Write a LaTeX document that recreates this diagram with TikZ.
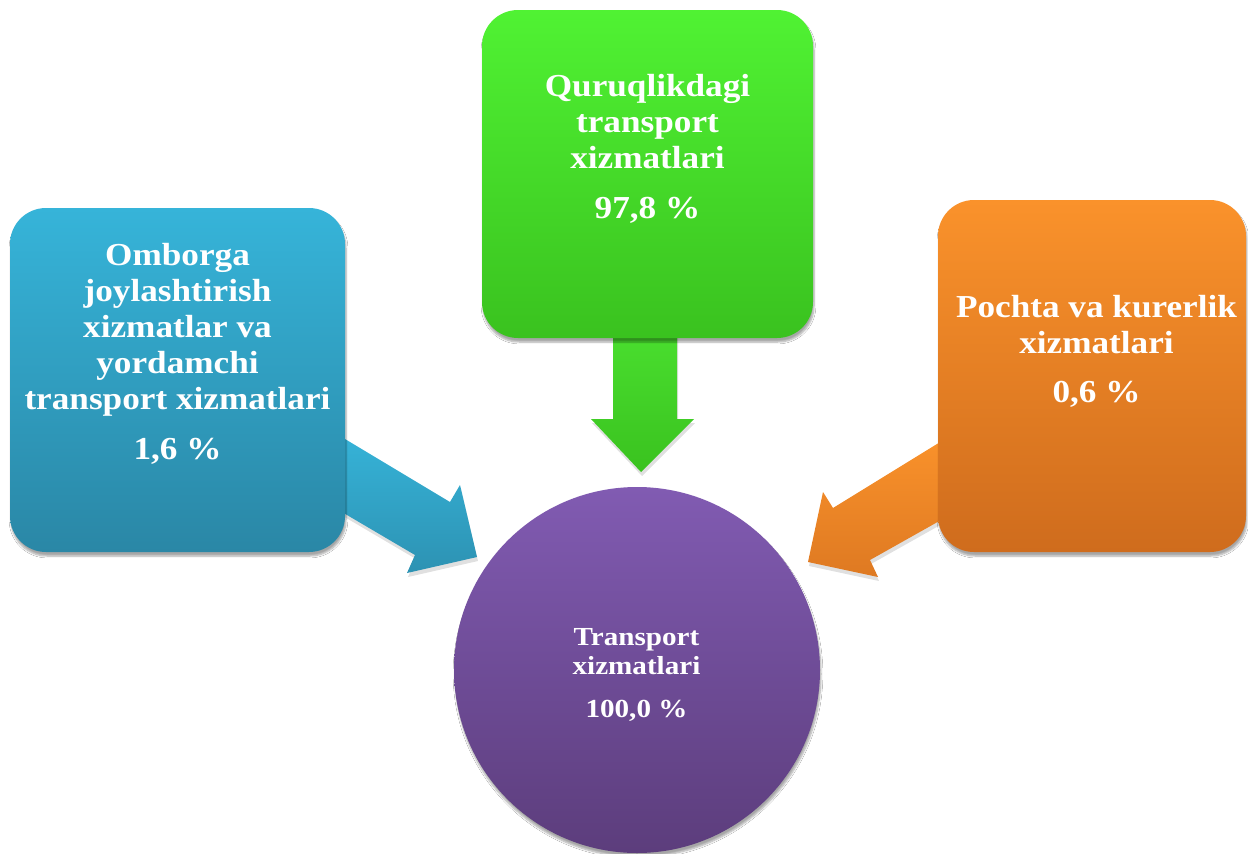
\documentclass[tikz,border=0pt]{standalone}
\usepackage{fontspec}
\setmainfont{Liberation Serif}
\usetikzlibrary{shadows.blur}
\definecolor{bluetop}{HTML}{36B4D9}
\definecolor{bluebot}{HTML}{2A87A6}
\definecolor{greentop}{HTML}{50F233}
\definecolor{greenbot}{HTML}{3AC21F}
\definecolor{orangetop}{HTML}{FA922B}
\definecolor{orangebot}{HTML}{CF6C1D}
\definecolor{purptop}{HTML}{815BB2}
\definecolor{purpbot}{HTML}{5C3D7C}
\newfontfamily\wideserif[FakeStretch=1.1]{Liberation Serif}
\newfontfamily\wideserifb[FakeStretch=1.12]{Liberation Serif}
\tikzset{
  card/.style={rectangle, rounded corners=36pt, inner sep=0pt,
    blur shadow={shadow xshift=1pt, shadow yshift=-4pt, shadow blur steps=6, shadow opacity=35}},
  label/.style={text=white, align=center, font=\wideserif\bfseries\fontsize{32}{36}\selectfont, inner sep=0pt},
  smalllabel/.style={text=white, align=center, font=\wideserifb\bfseries\fontsize{26}{29.5}\selectfont, inner sep=0pt},
  arrowshadow/.style={fill=black, opacity=0.12},
}
\begin{document}
\begin{tikzpicture}[x=1pt,y=-1pt]
\useasboundingbox (0,0) rectangle (1248,854);
\fill[white] (0,0) rectangle (1248,854);
% arrow shadows
\fill[arrowshadow, shift={(1,4)}]
  (330,430) -- (450,502) -- (460,485) -- (477,557) -- (407,573) -- (415,555) -- (330,505) -- cycle;
\fill[arrowshadow, shift={(1,4)}]
  (613,330) -- (613,419) -- (591,419) -- (641,472) -- (694,419) -- (677,419) -- (677,330) -- cycle;
\fill[arrowshadow, shift={(1,4)}]
  (950,436) -- (833,508) -- (823,492) -- (808,562) -- (878,577) -- (870,560) -- (950,515) -- cycle;
% arrows
\shade[top color=bluetop, bottom color=bluebot!75!bluetop]
  (330,430) -- (450,502) -- (460,485) -- (477,557) -- (407,573) -- (415,555) -- (330,505) -- cycle;
\shade[top color=greentop!92!black, bottom color=greenbot]
  (613,330) -- (613,419) -- (591,419) -- (641,472) -- (694,419) -- (677,419) -- (677,330) -- cycle;
\shade[top color=orangetop, bottom color=orangebot!65!orangetop]
  (950,436) -- (833,508) -- (823,492) -- (808,562) -- (878,577) -- (870,560) -- (950,515) -- cycle;
% boxes
\node[card, top color=bluetop, bottom color=bluebot, minimum width=335pt, minimum height=344pt] (left) at (177.5,380) {};
\node[card, top color=greentop, bottom color=greenbot, minimum width=331pt, minimum height=328pt] (top) at (647.5,174) {};
\node[card, top color=orangetop, bottom color=orangebot, minimum width=308pt, minimum height=352pt] (right) at (1092,376) {};
% circle
\node[circle, inner sep=0pt, minimum size=366pt, top color=purptop, bottom color=purpbot,
  blur shadow={shadow xshift=1pt, shadow yshift=-4pt, shadow blur steps=6, shadow opacity=35}] (hub) at (637,670) {};
% texts
\node[label, anchor=north] (lefttext) at (177.5,243.5) {Omborga\\joylashtirish\\xizmatlar va\\yordamchi\\transport xizmatlari\\[14pt]1,6 \%};
\node[label, anchor=north] (toptext) at (647.5,74.5) {Quruqlikdagi\\transport\\xizmatlari\\[14pt]97,8 \%};
\node[label, anchor=north] (righttext) at (1096.5,295.5) {Pochta va kurerlik\\xizmatlari\\[13pt]0,6 \%};
\node[smalllabel, anchor=north] (hubtext) at (636.5,628) {Transport\\xizmatlari\\[13.5pt]100,0 \%};
\end{tikzpicture}
\end{document}
